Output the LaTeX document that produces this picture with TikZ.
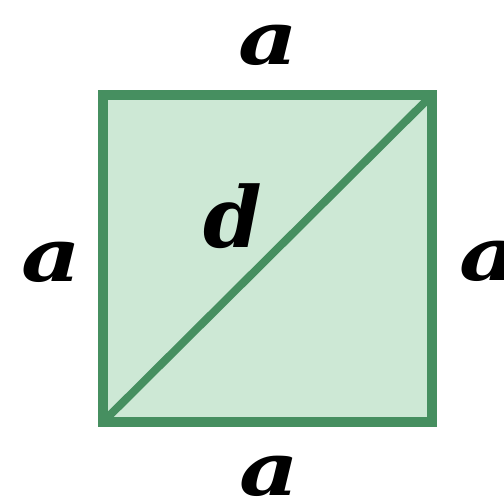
\documentclass[tikz,border=0pt]{standalone}
\usepackage{fontspec}
\setmainfont{DejaVu Serif}
\definecolor{sqedge}{HTML}{468F60}
\definecolor{sqfill}{HTML}{CDE8D5}
\tikzset{
  lblbase/.style={font=\fontsize{84}{84}\selectfont\bfseries\itshape, inner sep=0pt, text=black},
  lbl/.style={lblbase, xscale=1.1, yscale=0.88, transform shape},
}
\begin{document}
\begin{tikzpicture}[x=1pt,y=-1pt]
\useasboundingbox (0,0) rectangle (504,503);
\coordinate (bl) at (103,422);
\coordinate (tr) at (432,95);
\draw[sqedge, fill=sqfill, line width=10pt] (bl) rectangle (tr);
\draw[sqedge, line width=8pt] (bl) -- (tr);
\node[lbl] (top) at (268,45) {a};
\node[lbl] (left) at (51,262) {a};
\node[lbl] (right) at (489,261) {a};
\node[lbl] (bottom) at (269,476) {a};
\node[lblbase] (d) at (233,216) {d};
\end{tikzpicture}
\end{document}
